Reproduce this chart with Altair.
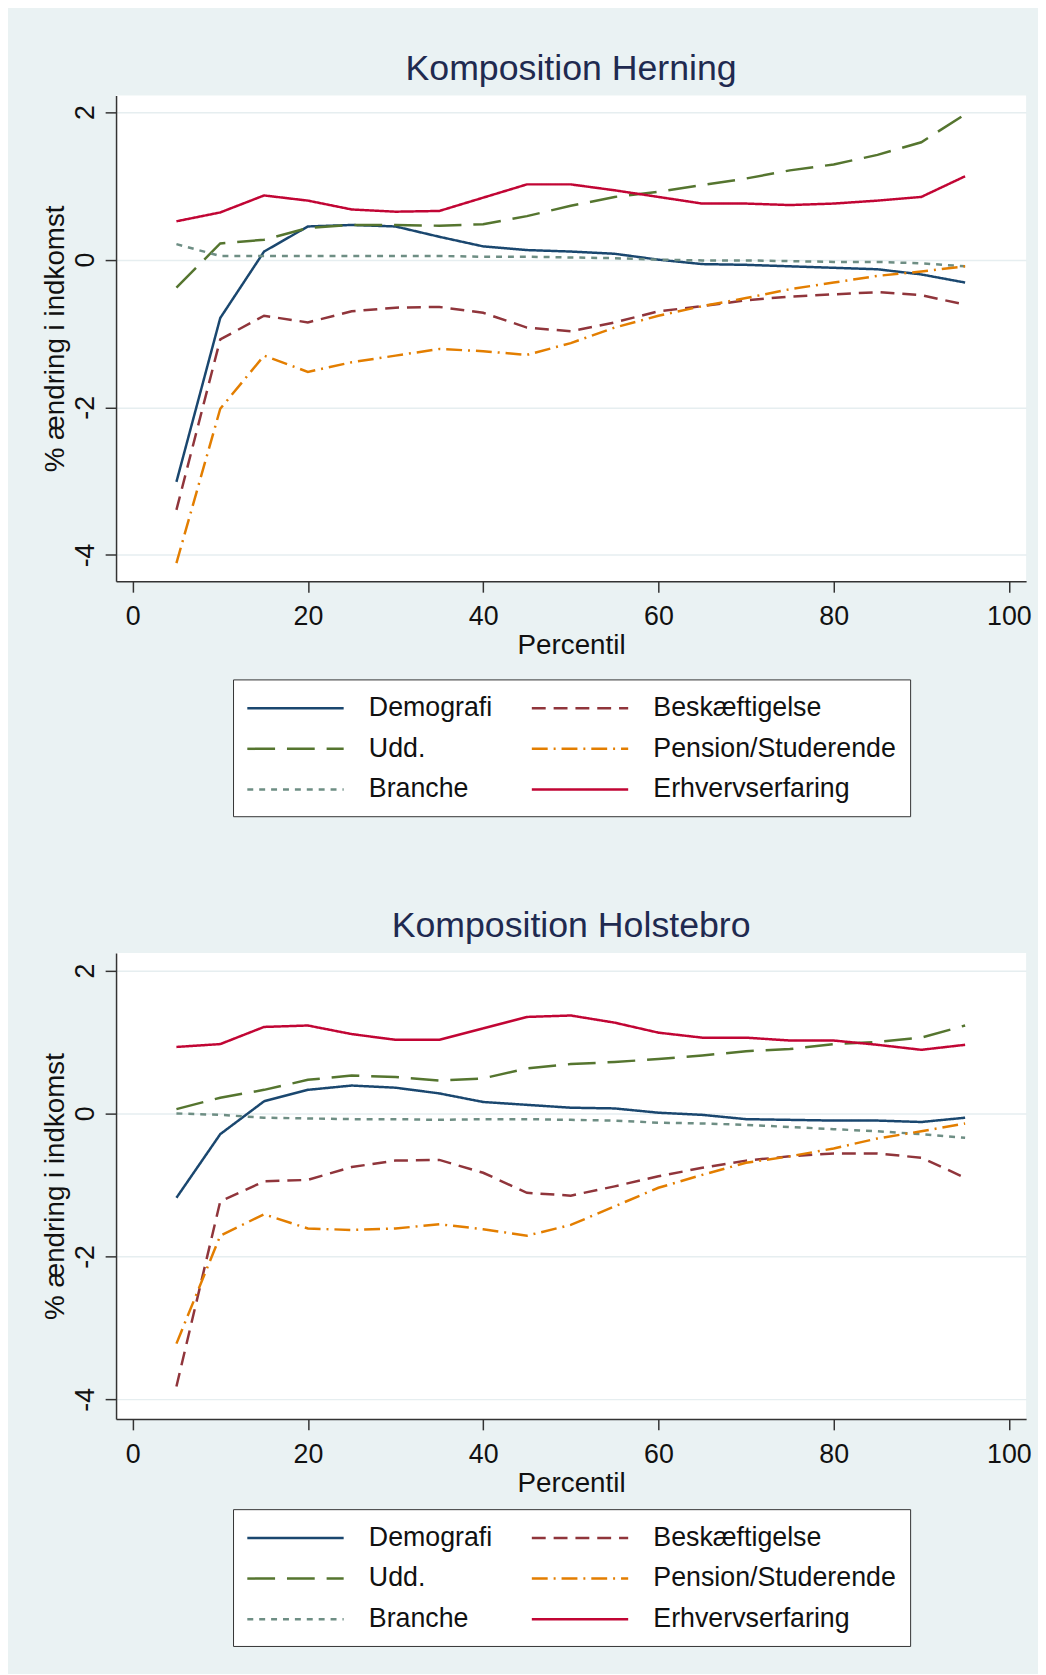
import altair as alt
import pandas as pd

percentiles = [5, 10, 15, 20, 25, 30, 35, 40, 45, 50, 55, 60, 65, 70, 75, 80, 85, 90, 95]
# listed column by column, as the legend fills its two columns top to bottom
series_names = ["Demografi", "Udd.", "Branche", "Beskæftigelse", "Pension/Studerende", "Erhvervserfaring"]
series_colors = ["#1a476f", "#55752f", "#6e8e84", "#90353b", "#e37e00", "#c10534"]
series_dashes = [[1, 0], [28, 12], [6, 6], [14, 8], [16, 6, 2, 6], [1, 0]]

# Komposition Herning
herning_demografi = [-3.01, -0.79, 0.11, 0.45, 0.47, 0.45, 0.31, 0.18, 0.13, 0.11, 0.08, 0.0, -0.06, -0.07, -0.09, -0.11, -0.13, -0.20, -0.31]
herning_beskaeftigelse = [-3.39, -1.08, -0.76, -0.85, -0.70, -0.65, -0.64, -0.72, -0.92, -0.97, -0.85, -0.70, -0.63, -0.55, -0.50, -0.47, -0.44, -0.48, -0.61]
herning_udd = [-0.38, 0.22, 0.27, 0.43, 0.47, 0.47, 0.46, 0.48, 0.59, 0.73, 0.85, 0.92, 1.01, 1.10, 1.21, 1.29, 1.42, 1.59, 1.97]
herning_pension = [-4.11, -2.02, -1.30, -1.52, -1.39, -1.30, -1.21, -1.24, -1.29, -1.13, -0.92, -0.76, -0.63, -0.52, -0.40, -0.31, -0.22, -0.16, -0.09]
herning_branche = [0.21, 0.05, 0.05, 0.05, 0.05, 0.05, 0.05, 0.04, 0.04, 0.03, 0.02, 0.0, -0.01, -0.01, -0.02, -0.03, -0.03, -0.05, -0.09]
herning_erhverv = [0.52, 0.64, 0.87, 0.80, 0.68, 0.65, 0.66, 0.84, 1.02, 1.02, 0.94, 0.85, 0.76, 0.76, 0.74, 0.76, 0.80, 0.85, 1.13]

# Komposition Holstebro
holstebro_demografi = [-1.18, -0.29, 0.17, 0.33, 0.39, 0.36, 0.28, 0.16, 0.12, 0.08, 0.07, 0.01, -0.02, -0.08, -0.09, -0.10, -0.10, -0.12, -0.06]
holstebro_beskaeftigelse = [-3.82, -1.23, -0.95, -0.93, -0.75, -0.66, -0.65, -0.83, -1.11, -1.15, -1.02, -0.88, -0.76, -0.66, -0.60, -0.56, -0.56, -0.62, -0.90]
holstebro_udd = [0.06, 0.22, 0.33, 0.47, 0.53, 0.51, 0.46, 0.49, 0.63, 0.69, 0.72, 0.76, 0.81, 0.87, 0.90, 0.97, 1.00, 1.06, 1.23]
holstebro_pension = [-3.22, -1.71, -1.41, -1.61, -1.63, -1.61, -1.55, -1.62, -1.71, -1.56, -1.30, -1.04, -0.86, -0.69, -0.60, -0.49, -0.35, -0.25, -0.14]
holstebro_branche = [0.0, -0.02, -0.06, -0.07, -0.08, -0.08, -0.09, -0.08, -0.08, -0.09, -0.10, -0.13, -0.14, -0.16, -0.19, -0.22, -0.25, -0.29, -0.34]
holstebro_erhverv = [0.93, 0.97, 1.21, 1.23, 1.11, 1.03, 1.03, 1.19, 1.35, 1.37, 1.27, 1.13, 1.06, 1.06, 1.02, 1.02, 0.96, 0.89, 0.96]

x_ticks = [0, 20, 40, 60, 80, 100]
y_ticks = [-4, -2, 0, 2]

FONT = "Liberation Sans, Arial, sans-serif"


def long_frame(columns):
    rows = []
    for name, values in zip(series_names, columns):
        for p, v in zip(percentiles, values):
            rows.append({"Percentil": p, "value": v, "series": name})
    return pd.DataFrame(rows)


herning_df = long_frame([herning_demografi, herning_udd, herning_branche,
                         herning_beskaeftigelse, herning_pension, herning_erhverv])
holstebro_df = long_frame([holstebro_demografi, holstebro_udd, holstebro_branche,
                           holstebro_beskaeftigelse, holstebro_pension, holstebro_erhverv])


def panel(df, title, height, ydomain, legend_y):
    leg = alt.Legend(
        orient="none", legendX=118, legendY=legend_y, columns=2, direction="vertical",
        symbolType="M-3.6,0H3.6", symbolSize=729, symbolStrokeWidth=2.5, symbolOffset=34,
        labelFontSize=27, labelFont=FONT, labelColor="#111111", labelLimit=400,
        labelOffset=59, columnPadding=34, rowPadding=13, padding=14,
        strokeColor="#333333", fillColor="white",
    )
    return alt.Chart(df).mark_line(strokeWidth=2.5).encode(
        x=alt.X("Percentil:Q",
                scale=alt.Scale(domain=[-1.89, 101.96], nice=False, zero=False),
                axis=alt.Axis(values=x_ticks, grid=False, title="Percentil",
                              labelPadding=12, titlePadding=2)),
        y=alt.Y("value:Q",
                scale=alt.Scale(domain=ydomain, nice=False, zero=False),
                axis=alt.Axis(values=y_ticks, grid=True, title="% ændring i indkomst",
                              labelExpr="datum.value < 0 ? '-' + abs(datum.value) : '' + datum.value",
                              labelAngle=270, labelAlign="center", labelBaseline="bottom",
                              labelPadding=6, titlePadding=2)),
        color=alt.Color("series:N", title=None,
                        scale=alt.Scale(domain=series_names, range=series_colors),
                        legend=leg),
        strokeDash=alt.StrokeDash("series:N", title=None,
                                  scale=alt.Scale(domain=series_names, range=series_dashes),
                                  legend=leg),
    ).properties(width=918, height=height, title=title)


top = panel(herning_df, "Komposition Herning", 490, [-4.357, 2.224], 589)
bottom = panel(holstebro_df, "Komposition Holstebro", 470, [-4.274, 2.244], 561)

chart = alt.vconcat(top, bottom, spacing=92).resolve_scale(
    color="independent", strokeDash="independent", x="independent", y="independent"
).resolve_legend(
    color="independent", strokeDash="independent"
).properties(
    padding={"left": 34, "top": 36, "right": 6, "bottom": 20}
).configure(
    background="#EAF2F3", font=FONT
).configure_view(
    fill="white", strokeWidth=0
).configure_axis(
    domainColor="#333333", domainWidth=1.5, tickColor="#333333", tickWidth=1.5, tickSize=11,
    gridColor="#E6EEF0", gridWidth=1.5,
    labelFont=FONT, labelFontSize=27, labelColor="#111111",
    titleFont=FONT, titleFontSize=28, titleFontWeight="normal", titleColor="#111111",
).configure_title(
    font=FONT, fontSize=36, fontWeight="normal", color="#1F2A50", anchor="middle", offset=8
)

chart.save("out.html", embed_options={"renderer": "svg", "actions": False})
